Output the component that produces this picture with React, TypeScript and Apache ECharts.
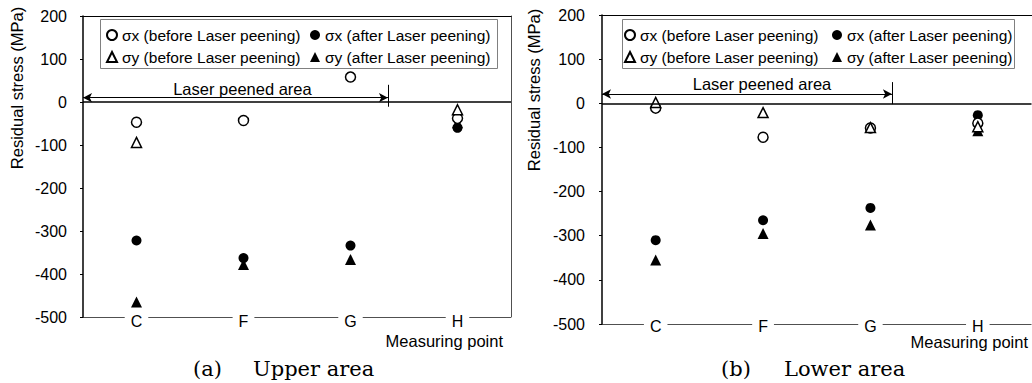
import React, { useEffect, useRef } from "react";
import * as echarts from "echarts";

const categories = ["C", "F", "G", "H"];
const yMin = -500;
const yMax = 200;
const yInterval = 100;

const NAME_SX_B = "σx (before Laser peening)";
const NAME_SX_A = "σx (after Laser peening)";
const NAME_SY_B = "σy (before Laser peening)";
const NAME_SY_A = "σy (after Laser peening)";

// (a) Upper area
const upperSxBefore = [-47, -43, 58, -38];
const upperSxAfter = [-322, -363, -334, -60];
const upperSyBefore = [-94, null, null, -18];
const upperSyAfter = [-465, -378, -366, -48];

// (b) Lower area
const lowerSxBefore = [-11, -77, -56, -45];
const lowerSxAfter = [-310, -265, -237, -27];
const lowerSyBefore = [2, -21, -55, -53];
const lowerSyAfter = [-355, -295, -276, -62];

// "Laser peened area" annotation, x in band units (0..4) along the plot
const upperPeened = { x0: 0, x1: 2.85, y: 10, vTop: 40, vBottom: -11, labelX: 1.49, labelY: 31 };
const lowerPeened = { x0: 0, x1: 2.7, y: 21, vTop: 48, vBottom: -2, labelX: 1.49, labelY: 43 };

const FONT = "'Liberation Sans', Arial, sans-serif";
const SERIF = "'DejaVu Serif', 'Liberation Serif', serif";

function scatterSeries(xi: number, yi: number, sxB: any[], sxA: any[], syB: any[], syA: any[]) {
  const base = { type: "scatter", xAxisIndex: xi, yAxisIndex: yi, symbolSize: 10, silent: true };
  const open = { color: "#fff", borderColor: "#000", borderWidth: 1.5, opacity: 1 };
  const solid = { color: "#000", opacity: 1 };
  return [
    { ...base, name: NAME_SX_A, symbol: "circle", data: sxA, itemStyle: solid },
    { ...base, name: NAME_SY_A, symbol: "triangle", symbolSize: 11, data: syA, itemStyle: solid },
    { ...base, name: NAME_SX_B, symbol: "circle", data: sxB, itemStyle: open },
    { ...base, name: NAME_SY_B, symbol: "triangle", data: syB, itemStyle: open },
  ];
}

function annotationSeries(xi: number, yi: number, a: any) {
  const arrowEnd = { symbol: "arrow", symbolSize: [7, 9] };
  return {
    type: "line",
    xAxisIndex: xi,
    yAxisIndex: yi,
    data: [],
    silent: true,
    z: 1,
    markLine: {
      silent: true,
      symbol: ["none", "none"],
      label: { show: false },
      lineStyle: { color: "#000", type: "solid", width: 1 },
      data: [
        { yAxis: 0, lineStyle: { color: "#000", type: "solid", width: 1.5 } },
        { yAxis: yMin, lineStyle: { color: "#505050", type: "solid", width: 1 } },
        [
          { coord: [a.x0, a.y], ...arrowEnd },
          { coord: [a.x1, a.y], ...arrowEnd },
        ],
        [{ coord: [a.x1, a.vTop] }, { coord: [a.x1, a.vBottom] }],
      ],
    },
    markPoint: {
      silent: true,
      symbol: "circle",
      symbolSize: 0,
      label: {
        show: true,
        position: "inside",
        formatter: "Laser peened area",
        color: "#000",
        fontSize: 16.5,
        fontFamily: FONT,
      },
      data: [{ coord: [a.labelX, a.labelY] }],
    },
  };
}

function catAxis(grid: number, labelMargin: number) {
  return {
    type: "category",
    gridIndex: grid,
    data: categories,
    position: "bottom",
    z: 10,
    axisLine: { show: false, onZero: false },
    axisTick: { show: false },
    axisLabel: {
      interval: 0,
      margin: labelMargin,
      color: "#000",
      fontSize: 16,
      fontFamily: FONT,
      backgroundColor: "#fff",
      padding: [0, 6, 0, 6],
    },
    splitLine: { show: false },
  };
}

function topAxis(grid: number) {
  return {
    type: "value",
    gridIndex: grid,
    position: "top",
    min: 0,
    max: 4,
    axisLine: { show: true, onZero: false, lineStyle: { color: "#000", width: 1.2 } },
    axisTick: { show: false },
    axisLabel: { show: false },
    splitLine: { show: false },
  };
}

function mainYAxis(grid: number, margin: number) {
  return {
    type: "value",
    gridIndex: grid,
    position: "left",
    min: yMin,
    max: yMax,
    interval: yInterval,
    z: 11,
    axisLine: { show: true, onZero: false, lineStyle: { color: "#000", width: 1.5 } },
    axisTick: { show: true, length: 3, lineStyle: { color: "#000" } },
    axisLabel: { margin, color: "#000", fontSize: 16, fontFamily: FONT },
    splitLine: { show: false },
  };
}

function legendCol(left: number, data: string[]) {
  return {
    left,
    top: 27,
    orient: "vertical",
    padding: 0,
    itemGap: 6,
    itemWidth: 10,
    itemHeight: 10,
    selectedMode: false,
    data,
    textStyle: { color: "#000", fontSize: 15.5, fontFamily: FONT, lineHeight: 16 },
  };
}

export default function App() {
  const ref = useRef<HTMLDivElement>(null);

  useEffect(() => {
    if (!ref.current) return;
    const chart = echarts.init(ref.current, undefined, { renderer: "svg" });
    const option: any = {
      animation: false,
      backgroundColor: "#fff",
      grid: [
        { left: 83, top: 16, width: 428, height: 301, containLabel: false },
        { left: 602, top: 15, width: 429.5, height: 309, containLabel: false },
      ],
      xAxis: [catAxis(0, -4), topAxis(0), catAxis(1, -6), topAxis(1)],
      yAxis: [
        mainYAxis(0, 16),
        {
          type: "value",
          gridIndex: 0,
          position: "right",
          min: yMin,
          max: yMax,
          interval: yInterval,
          axisLine: { show: true, onZero: false, lineStyle: { color: "#505050", width: 1 } },
          axisTick: { show: false },
          axisLabel: { show: false },
          splitLine: { show: false },
        },
        mainYAxis(1, 17),
      ],
      legend: [
        legendCol(106, [NAME_SX_B, NAME_SY_B]),
        legendCol(310, [NAME_SX_A, NAME_SY_A]),
        legendCol(624, [NAME_SX_B, NAME_SY_B]),
        legendCol(832, [NAME_SX_A, NAME_SY_A]),
      ],
      graphic: [
        { type: "rect", shape: { x: 100.5, y: 19.5, width: 397, height: 49 }, style: { fill: "none", stroke: "#808080", lineWidth: 1 } },
        { type: "rect", shape: { x: 622.5, y: 19.5, width: 392, height: 49 }, style: { fill: "none", stroke: "#808080", lineWidth: 1 } },
        { type: "text", x: 17, y: 88, rotation: Math.PI / 2, style: { text: "Residual stress (MPa)", fontSize: 16.5, fontFamily: FONT, fill: "#000", align: "center", verticalAlign: "middle" } },
        { type: "text", x: 534, y: 90, rotation: Math.PI / 2, style: { text: "Residual stress (MPa)", fontSize: 16.5, fontFamily: FONT, fill: "#000", align: "center", verticalAlign: "middle" } },
        { type: "text", x: 503, y: 341, style: { text: "Measuring point", fontSize: 16.5, fontFamily: FONT, fill: "#000", align: "right", verticalAlign: "middle" } },
        { type: "text", x: 1028, y: 342, style: { text: "Measuring point", fontSize: 16.5, fontFamily: FONT, fill: "#000", align: "right", verticalAlign: "middle" } },
        { type: "text", x: 193, y: 369, style: { text: "(a)", fontSize: 21, fontFamily: SERIF, fill: "#000", align: "left", verticalAlign: "middle" } },
        { type: "text", x: 253, y: 369, style: { text: "Upper area", fontSize: 21, fontFamily: SERIF, fill: "#000", align: "left", verticalAlign: "middle" } },
        { type: "text", x: 721, y: 369, style: { text: "(b)", fontSize: 21, fontFamily: SERIF, fill: "#000", align: "left", verticalAlign: "middle" } },
        { type: "text", x: 784, y: 369, style: { text: "Lower area", fontSize: 21, fontFamily: SERIF, fill: "#000", align: "left", verticalAlign: "middle" } },
      ],
      series: [
        annotationSeries(1, 0, upperPeened),
        ...scatterSeries(0, 0, upperSxBefore, upperSxAfter, upperSyBefore, upperSyAfter),
        annotationSeries(3, 2, lowerPeened),
        ...scatterSeries(2, 2, lowerSxBefore, lowerSxAfter, lowerSyBefore, lowerSyAfter),
      ],
    };
    chart.setOption(option);
    return () => chart.dispose();
  }, []);

  return (
    <div
      ref={ref}
      style={{ position: "absolute", left: 0, top: 0, width: 1032, height: 383, background: "#fff" }}
    />
  );
}
